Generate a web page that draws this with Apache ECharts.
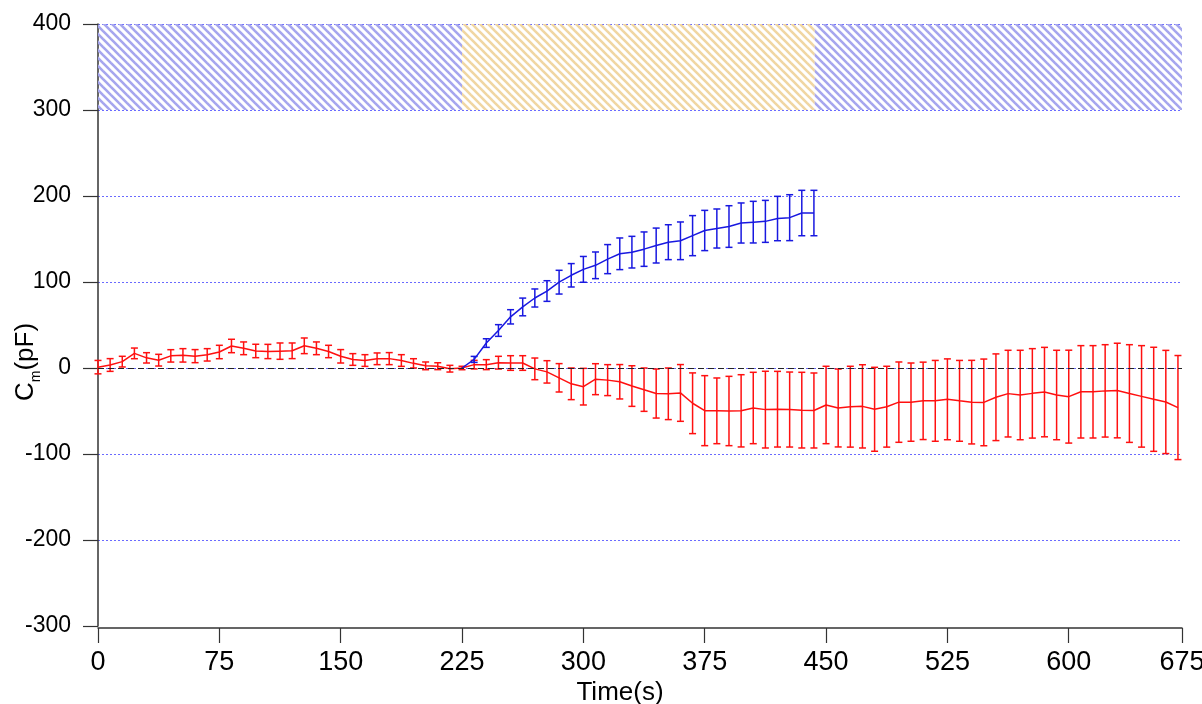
<!DOCTYPE html>
<html>
<head>
<meta charset="utf-8">
<script src="https://cdn.jsdelivr.net/npm/echarts@6/dist/echarts.min.js"></script>
<style>
html,body{margin:0;padding:0;background:#fff;}
#chart{width:1202px;height:704px;}
</style>
</head>
<body>
<div id="chart"></div>
<script>
// ---- data ----
const redTime = [0,7.5,15,22.5,30,37.5,45,52.5,60,67.5,75,82.5,90,97.5,105,112.5,120,127.5,135,142.5,
  150,157.5,165,172.5,180,187.5,195,202.5,210,217.5,225,232.5,240,247.5,255,262.5,270,277.5,285,292.5,
  300,307.5,315,322.5,330,337.5,345,352.5,360,367.5,375,382.5,390,397.5,405,412.5,420,427.5,435,442.5,
  450,457.5,465,472.5,480,487.5,495,502.5,510,517.5,525,532.5,540,547.5,555,562.5,570,577.5,585,592.5,
  600,607.5,615,622.5,630,637.5,645,652.5,660,667.5];
const redMean = [1,3.5,7.4,17,11.8,9.1,14.1,14.7,13.8,15.3,18.6,25.6,22.9,19.8,19.2,19.6,20,25.8,22.9,19.2,
  13.6,9.9,8.7,10.7,10.9,8.7,5.4,2.5,2.1,-0.8,0,3.9,3.9,6.2,5.8,5.8,-1,-4.5,-11.4,-18.4,
  -21.7,-13,-14.1,-16,-21,-25.2,-29.7,-30,-29,-41,-49.6,-49.8,-50,-49.8,-46.5,-48.4,-47.9,-48.3,-49,-49.4,
  -43,-46.5,-45,-44.6,-48,-45,-39.7,-39.7,-38.2,-38.2,-36.4,-38.2,-39.7,-40,-34,-29.8,-31.4,-29.5,-28,-31.4,
  -33.3,-27.7,-27.7,-26.6,-26.2,-29.7,-33,-36.4,-39.5,-46];
const redErr = [7.8,7.4,6.2,6.2,6,6.8,7.2,7.8,7.6,7.2,7.8,7.8,7.4,7.8,8.3,9.5,9.1,9.1,7.4,7.2,
  7.8,6.8,6.8,6.8,7,6.8,5.4,4.5,4,3.9,2,5,5.8,7.4,8.5,8.5,12.6,13,16.5,18.4,
  21.3,18,18,20,23.6,25.2,28.5,30,33,35.3,40.7,38.2,40.3,42,41.5,44.6,44,43.6,44,43.6,
  45,45.3,47,48.4,48.8,47,46.7,45.5,45,47,47,47,48.6,50.4,50.4,50.4,52,52,52,52,
  54,53.7,53.7,53.7,55,56.8,59,60.5,60,60.5];

const blueTime = [225,232.5,240,247.5,255,262.5,270,277.5,285,292.5,300,307.5,315,322.5,330,337.5,
  345,352.5,360,367.5,375,382.5,390,397.5,405,412.5,420,427.5,435,442.5];
const blueMean = [0,10,29,43.6,59.5,71,81.4,89.5,99.8,107.8,114.7,119.4,126.6,132.8,134.7,138.2,
  142.4,146.3,147.9,153.9,159.9,162.2,164.5,168.6,169.6,170.5,173.8,174.8,180.2,180.2];
const blueErr = [0,3.5,5,6.8,8.3,10.3,10.5,12,13.8,13.6,15,15.5,16.9,18.4,18.4,20,
  20.3,20.3,21.9,23.3,23.4,22.7,24.2,23.3,24.2,24.4,25.8,26.7,26.4,26.4];

// shaded stimulus bands (time ranges) and their value range
const bandStart = [0, 225, 443];
const bandEnd = [225, 443, 670];
const bandKind = ['blue', 'orange', 'blue'];
const bandLow = 300, bandHigh = 400;

const xTickValues = [0,75,150,225,300,375,450,525,600,670];
const xTickLabels = ['0','75','150','225','300','375','450','525','600','675'];
const yMin = -300, yMax = 400, yStep = 100;
const xMin = 0, xMax = 670;

// ---- styles ----
const FONT = '"Liberation Sans", Arial, sans-serif';
function hatch(color) {
  const P = 8;
  const c = document.createElement('canvas');
  c.width = P; c.height = P;
  const g = c.getContext('2d');
  g.strokeStyle = color;
  g.lineWidth = 2.6;
  for (let k = -P; k <= P; k += P) {
    g.beginPath();
    g.moveTo(k - 1, -1);
    g.lineTo(k + P + 1, P + 1);
    g.stroke();
  }
  return { image: c, repeat: 'repeat' };
}
const bandFill = { blue: hatch('#a6a6ee'), orange: hatch('#f0d6a2') };

function pairs(t, m) { return t.map((v, i) => [v, m[i]]); }
function triples(t, m, e) { return t.map((v, i) => [v, m[i], e[i]]); }

function errRender(color) {
  return function (params, api) {
    const x = api.value(0), y = api.value(1), e = api.value(2);
    if (!e) return null;
    const top = api.coord([x, y + e]);
    const bot = api.coord([x, y - e]);
    const w = 3.5;
    const st = { stroke: color, lineWidth: 1.5 };
    return {
      type: 'group',
      children: [
        { type: 'line', shape: { x1: top[0], y1: top[1], x2: bot[0], y2: bot[1] }, style: st },
        { type: 'line', shape: { x1: top[0] - w, y1: top[1], x2: top[0] + w, y2: top[1] }, style: st },
        { type: 'line', shape: { x1: bot[0] - w, y1: bot[1], x2: bot[0] + w, y2: bot[1] }, style: st }
      ]
    };
  };
}

const chart = echarts.init(document.getElementById('chart'), null, { renderer: 'canvas' });
chart.setOption({
  animation: false,
  backgroundColor: '#fff',
  grid: { left: 98, right: 20, top: 24, bottom: 78, containLabel: false, outerBoundsMode: 'none' },
  xAxis: {
    type: 'value', min: xMin, max: xMax, offset: 2,
    name: 'Time(s)', nameLocation: 'middle', nameGap: 52, nameMoveOverlap: false,
    nameTextStyle: { fontFamily: FONT, fontSize: 26, color: '#000', padding: [0, 40, 0, 0] },
    axisLine: { onZero: false, lineStyle: { color: '#333', width: 1.5 } },
    axisTick: { length: 15, customValues: xTickValues, lineStyle: { color: '#333', width: 1.2 } },
    axisLabel: {
      customValues: xTickValues, margin: 21, fontFamily: FONT, fontSize: 27, color: '#000',
      formatter: v => xTickLabels[xTickValues.indexOf(v)]
    },
    splitLine: { show: false }
  },
  yAxis: {
    type: 'value', min: yMin, max: yMax, interval: yStep, offset: 3,
    name: 'C{m|m}(pF)', nameLocation: 'middle', nameGap: 52, nameRotate: 90, nameMoveOverlap: false,
    nameTextStyle: {
      fontFamily: FONT, fontSize: 26, color: '#000', padding: [0, 74, 0, 0],
      rich: {
        m: { fontFamily: FONT, fontSize: 14, color: '#000', padding: [20, 0, 0, 0] }
      }
    },
    axisLine: { lineStyle: { color: '#333', width: 1.5 } },
    axisTick: { length: 15, lineStyle: { color: '#333', width: 1.2 } },
    axisLabel: { margin: 24, fontFamily: FONT, fontSize: 23, color: '#000' },
    splitLine: { show: true, showMinLine: false, lineStyle: { color: '#6a6aff', type: [2, 2], width: 1 } }
  },
  series: [
    {
      type: 'line', name: 'red', data: pairs(redTime, redMean),
      showSymbol: false, symbol: 'none', z: 3,
      lineStyle: { color: '#ff1010', width: 1.5 },
      markArea: {
        silent: true,
        data: bandStart.map((s, i) => [
          { xAxis: s, yAxis: bandLow, itemStyle: { color: bandFill[bandKind[i]] } },
          { xAxis: bandEnd[i], yAxis: bandHigh }
        ])
      },
      markLine: {
        silent: true, symbol: 'none', label: { show: false },
        lineStyle: { color: '#222', type: [6, 4], width: 1 },
        data: [{ yAxis: 0 }]
      }
    },
    {
      type: 'custom', name: 'redErr', data: triples(redTime, redMean, redErr),
      renderItem: errRender('#ff1010'), z: 3, encode: { x: 0, y: [1] }
    },
    {
      type: 'line', name: 'blue', data: pairs(blueTime, blueMean),
      showSymbol: false, symbol: 'none', z: 4,
      lineStyle: { color: '#1818e0', width: 1.5 }
    },
    {
      type: 'custom', name: 'blueErr', data: triples(blueTime, blueMean, blueErr),
      renderItem: errRender('#1818e0'), z: 4, encode: { x: 0, y: [1] }
    }
  ]
});
</script>
</body>
</html>
